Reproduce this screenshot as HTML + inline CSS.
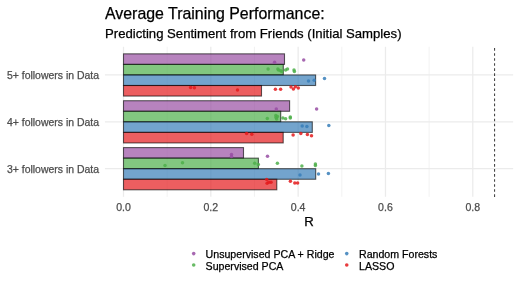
<!DOCTYPE html><html><head><meta charset="utf-8"><style>html,body{margin:0;padding:0;background:#fff;}svg{display:block;will-change:transform;}text{font-family:"Liberation Sans",sans-serif;stroke-width:0.25px;paint-order:stroke;}</style></head><body>
<svg width="520" height="284" viewBox="0 0 520 284">
<rect width="520" height="284" fill="#fff"/>
<line x1="167.16" y1="46.8" x2="167.16" y2="196.8" stroke="#EBEBEB" stroke-width="0.64"/>
<line x1="254.48" y1="46.8" x2="254.48" y2="196.8" stroke="#EBEBEB" stroke-width="0.64"/>
<line x1="341.80" y1="46.8" x2="341.80" y2="196.8" stroke="#EBEBEB" stroke-width="0.64"/>
<line x1="429.12" y1="46.8" x2="429.12" y2="196.8" stroke="#EBEBEB" stroke-width="0.64"/>
<line x1="123.50" y1="46.8" x2="123.50" y2="196.8" stroke="#EBEBEB" stroke-width="1.27"/>
<line x1="210.82" y1="46.8" x2="210.82" y2="196.8" stroke="#EBEBEB" stroke-width="1.27"/>
<line x1="298.14" y1="46.8" x2="298.14" y2="196.8" stroke="#EBEBEB" stroke-width="1.27"/>
<line x1="385.46" y1="46.8" x2="385.46" y2="196.8" stroke="#EBEBEB" stroke-width="1.27"/>
<line x1="472.78" y1="46.8" x2="472.78" y2="196.8" stroke="#EBEBEB" stroke-width="1.27"/>
<line x1="104.94" y1="74.95" x2="513.17" y2="74.95" stroke="#EBEBEB" stroke-width="1.27"/>
<line x1="104.94" y1="121.83" x2="513.17" y2="121.83" stroke="#EBEBEB" stroke-width="1.27"/>
<line x1="104.94" y1="168.7" x2="513.17" y2="168.7" stroke="#EBEBEB" stroke-width="1.27"/>
<rect x="123.50" y="53.85" width="161.00" height="10.55" fill="#984EA3" fill-opacity="0.7" stroke="#000" stroke-opacity="0.62" stroke-width="1.1"/>
<rect x="123.50" y="64.40" width="159.80" height="10.55" fill="#4DAF4A" fill-opacity="0.7" stroke="#000" stroke-opacity="0.62" stroke-width="1.1"/>
<rect x="123.50" y="74.95" width="192.10" height="10.55" fill="#377EB8" fill-opacity="0.7" stroke="#000" stroke-opacity="0.62" stroke-width="1.1"/>
<rect x="123.50" y="85.50" width="138.00" height="10.55" fill="#E41A1C" fill-opacity="0.7" stroke="#000" stroke-opacity="0.62" stroke-width="1.1"/>
<rect x="123.50" y="100.73" width="166.10" height="10.55" fill="#984EA3" fill-opacity="0.7" stroke="#000" stroke-opacity="0.62" stroke-width="1.1"/>
<rect x="123.50" y="111.28" width="157.20" height="10.55" fill="#4DAF4A" fill-opacity="0.7" stroke="#000" stroke-opacity="0.62" stroke-width="1.1"/>
<rect x="123.50" y="121.83" width="188.80" height="10.55" fill="#377EB8" fill-opacity="0.7" stroke="#000" stroke-opacity="0.62" stroke-width="1.1"/>
<rect x="123.50" y="132.38" width="159.70" height="10.55" fill="#E41A1C" fill-opacity="0.7" stroke="#000" stroke-opacity="0.62" stroke-width="1.1"/>
<rect x="123.50" y="147.60" width="120.00" height="10.55" fill="#984EA3" fill-opacity="0.7" stroke="#000" stroke-opacity="0.62" stroke-width="1.1"/>
<rect x="123.50" y="158.15" width="134.90" height="10.55" fill="#4DAF4A" fill-opacity="0.7" stroke="#000" stroke-opacity="0.62" stroke-width="1.1"/>
<rect x="123.50" y="168.70" width="192.20" height="10.55" fill="#377EB8" fill-opacity="0.7" stroke="#000" stroke-opacity="0.62" stroke-width="1.1"/>
<rect x="123.50" y="179.25" width="153.30" height="10.55" fill="#E41A1C" fill-opacity="0.7" stroke="#000" stroke-opacity="0.62" stroke-width="1.1"/>
<circle cx="274.6" cy="62.2" r="1.75" fill="#984EA3" fill-opacity="0.85"/>
<circle cx="303.7" cy="60.1" r="1.75" fill="#984EA3" fill-opacity="0.85"/>
<circle cx="276.3" cy="109" r="1.75" fill="#984EA3" fill-opacity="0.85"/>
<circle cx="316.6" cy="109" r="1.75" fill="#984EA3" fill-opacity="0.85"/>
<circle cx="231.5" cy="154.6" r="1.75" fill="#984EA3" fill-opacity="0.85"/>
<circle cx="231.5" cy="156.4" r="1.75" fill="#984EA3" fill-opacity="0.85"/>
<circle cx="267.5" cy="156.2" r="1.75" fill="#984EA3" fill-opacity="0.85"/>
<circle cx="268.1" cy="69.1" r="1.75" fill="#4DAF4A" fill-opacity="0.85"/>
<circle cx="277.9" cy="69.1" r="1.75" fill="#4DAF4A" fill-opacity="0.85"/>
<circle cx="278.5" cy="70.1" r="1.75" fill="#4DAF4A" fill-opacity="0.85"/>
<circle cx="280.6" cy="70.8" r="1.75" fill="#4DAF4A" fill-opacity="0.85"/>
<circle cx="281.9" cy="71.4" r="1.75" fill="#4DAF4A" fill-opacity="0.85"/>
<circle cx="285.6" cy="70.1" r="1.75" fill="#4DAF4A" fill-opacity="0.85"/>
<circle cx="287.5" cy="69.1" r="1.75" fill="#4DAF4A" fill-opacity="0.85"/>
<circle cx="294" cy="70.1" r="1.75" fill="#4DAF4A" fill-opacity="0.85"/>
<circle cx="294.4" cy="71.4" r="1.75" fill="#4DAF4A" fill-opacity="0.85"/>
<circle cx="267.3" cy="118.5" r="1.75" fill="#4DAF4A" fill-opacity="0.85"/>
<circle cx="275.8" cy="115.5" r="1.75" fill="#4DAF4A" fill-opacity="0.85"/>
<circle cx="277.4" cy="116.4" r="1.75" fill="#4DAF4A" fill-opacity="0.85"/>
<circle cx="276" cy="117.6" r="1.75" fill="#4DAF4A" fill-opacity="0.85"/>
<circle cx="276.6" cy="119" r="1.75" fill="#4DAF4A" fill-opacity="0.85"/>
<circle cx="282.9" cy="118.1" r="1.75" fill="#4DAF4A" fill-opacity="0.85"/>
<circle cx="285.6" cy="118.75" r="1.75" fill="#4DAF4A" fill-opacity="0.85"/>
<circle cx="290.3" cy="116.9" r="1.75" fill="#4DAF4A" fill-opacity="0.85"/>
<circle cx="290.3" cy="118.1" r="1.75" fill="#4DAF4A" fill-opacity="0.85"/>
<circle cx="165" cy="165.6" r="1.75" fill="#4DAF4A" fill-opacity="0.85"/>
<circle cx="182.5" cy="162.8" r="1.75" fill="#4DAF4A" fill-opacity="0.85"/>
<circle cx="254.7" cy="163.2" r="1.75" fill="#4DAF4A" fill-opacity="0.85"/>
<circle cx="258.3" cy="164.4" r="1.75" fill="#4DAF4A" fill-opacity="0.85"/>
<circle cx="277.4" cy="163.2" r="1.75" fill="#4DAF4A" fill-opacity="0.85"/>
<circle cx="301.9" cy="166" r="1.75" fill="#4DAF4A" fill-opacity="0.85"/>
<circle cx="315.4" cy="164.1" r="1.75" fill="#4DAF4A" fill-opacity="0.85"/>
<circle cx="315.4" cy="165.6" r="1.75" fill="#4DAF4A" fill-opacity="0.85"/>
<circle cx="308.5" cy="81" r="1.75" fill="#377EB8" fill-opacity="0.85"/>
<circle cx="314.2" cy="80.3" r="1.75" fill="#377EB8" fill-opacity="0.85"/>
<circle cx="324.5" cy="78.6" r="1.75" fill="#377EB8" fill-opacity="0.85"/>
<circle cx="302.2" cy="125.9" r="1.75" fill="#377EB8" fill-opacity="0.85"/>
<circle cx="306.9" cy="126.6" r="1.75" fill="#377EB8" fill-opacity="0.85"/>
<circle cx="328.8" cy="125.6" r="1.75" fill="#377EB8" fill-opacity="0.85"/>
<circle cx="300" cy="175" r="1.75" fill="#377EB8" fill-opacity="0.85"/>
<circle cx="318.5" cy="174" r="1.75" fill="#377EB8" fill-opacity="0.85"/>
<circle cx="328.4" cy="173.5" r="1.75" fill="#377EB8" fill-opacity="0.85"/>
<circle cx="190.6" cy="87.4" r="1.75" fill="#E41A1C" fill-opacity="0.85"/>
<circle cx="194.4" cy="87.75" r="1.75" fill="#E41A1C" fill-opacity="0.85"/>
<circle cx="237.5" cy="90.1" r="1.75" fill="#E41A1C" fill-opacity="0.85"/>
<circle cx="275.4" cy="89.3" r="1.75" fill="#E41A1C" fill-opacity="0.85"/>
<circle cx="280.6" cy="89.3" r="1.75" fill="#E41A1C" fill-opacity="0.85"/>
<circle cx="291" cy="86.9" r="1.75" fill="#E41A1C" fill-opacity="0.85"/>
<circle cx="293.4" cy="89.1" r="1.75" fill="#E41A1C" fill-opacity="0.85"/>
<circle cx="295.4" cy="86.7" r="1.75" fill="#E41A1C" fill-opacity="0.85"/>
<circle cx="298.3" cy="88" r="1.75" fill="#E41A1C" fill-opacity="0.85"/>
<circle cx="246.6" cy="133.5" r="1.75" fill="#E41A1C" fill-opacity="0.85"/>
<circle cx="251.8" cy="134.2" r="1.75" fill="#E41A1C" fill-opacity="0.85"/>
<circle cx="293.1" cy="135" r="1.75" fill="#E41A1C" fill-opacity="0.85"/>
<circle cx="300.8" cy="133.5" r="1.75" fill="#E41A1C" fill-opacity="0.85"/>
<circle cx="307.4" cy="134.5" r="1.75" fill="#E41A1C" fill-opacity="0.85"/>
<circle cx="311.5" cy="135.8" r="1.75" fill="#E41A1C" fill-opacity="0.85"/>
<circle cx="266.7" cy="179.6" r="1.75" fill="#E41A1C" fill-opacity="0.85"/>
<circle cx="267.1" cy="183.2" r="1.75" fill="#E41A1C" fill-opacity="0.85"/>
<circle cx="268.8" cy="182.3" r="1.75" fill="#E41A1C" fill-opacity="0.85"/>
<circle cx="271" cy="182.3" r="1.75" fill="#E41A1C" fill-opacity="0.85"/>
<circle cx="290.4" cy="181.2" r="1.75" fill="#E41A1C" fill-opacity="0.85"/>
<circle cx="294.8" cy="183" r="1.75" fill="#E41A1C" fill-opacity="0.85"/>
<circle cx="297.6" cy="183" r="1.75" fill="#E41A1C" fill-opacity="0.85"/>
<line x1="494.55" y1="196.9" x2="494.55" y2="46.8" stroke="#000" stroke-opacity="0.72" stroke-width="1.1" stroke-dasharray="2.62 2.42"/>
<text x="99" y="79.25" font-size="10.46" fill="#4D4D4D" stroke="#4D4D4D" stroke-width="0.12" text-anchor="end">5+ followers in Data</text>
<text x="99" y="126.13" font-size="10.46" fill="#4D4D4D" stroke="#4D4D4D" stroke-width="0.12" text-anchor="end">4+ followers in Data</text>
<text x="99" y="173.00" font-size="10.46" fill="#4D4D4D" stroke="#4D4D4D" stroke-width="0.12" text-anchor="end">3+ followers in Data</text>
<text x="123.50" y="211.4" font-size="10.55" fill="#4D4D4D" stroke="#4D4D4D" stroke-width="0.12" text-anchor="middle">0.0</text>
<text x="210.82" y="211.4" font-size="10.55" fill="#4D4D4D" stroke="#4D4D4D" stroke-width="0.12" text-anchor="middle">0.2</text>
<text x="298.14" y="211.4" font-size="10.55" fill="#4D4D4D" stroke="#4D4D4D" stroke-width="0.12" text-anchor="middle">0.4</text>
<text x="385.46" y="211.4" font-size="10.55" fill="#4D4D4D" stroke="#4D4D4D" stroke-width="0.12" text-anchor="middle">0.6</text>
<text x="472.78" y="211.4" font-size="10.55" fill="#4D4D4D" stroke="#4D4D4D" stroke-width="0.12" text-anchor="middle">0.8</text>
<text x="309.06" y="226" font-size="13.2" fill="#000" stroke="#000" text-anchor="middle">R</text>
<text x="105" y="18.5" font-size="15.9" fill="#000" stroke="#000">Average Training Performance:</text>
<text x="105" y="37.9" font-size="13.15" fill="#000" stroke="#000">Predicting Sentiment from Friends (Initial Samples)</text>
<circle cx="193.7" cy="253.6" r="1.8" fill="#984EA3" fill-opacity="0.85"/>
<text x="205.6" y="258.20" font-size="10.62" fill="#000" stroke="#000">Unsupervised PCA + Ridge</text>
<circle cx="193.7" cy="265" r="1.8" fill="#4DAF4A" fill-opacity="0.85"/>
<text x="205.6" y="269.60" font-size="10.62" fill="#000" stroke="#000">Supervised PCA</text>
<circle cx="346.75" cy="253.6" r="1.8" fill="#377EB8" fill-opacity="0.85"/>
<text x="359.0" y="258.20" font-size="10.62" fill="#000" stroke="#000">Random Forests</text>
<circle cx="346.75" cy="265" r="1.8" fill="#E41A1C" fill-opacity="0.85"/>
<text x="359.0" y="269.60" font-size="10.62" fill="#000" stroke="#000">LASSO</text>
</svg></body></html>
